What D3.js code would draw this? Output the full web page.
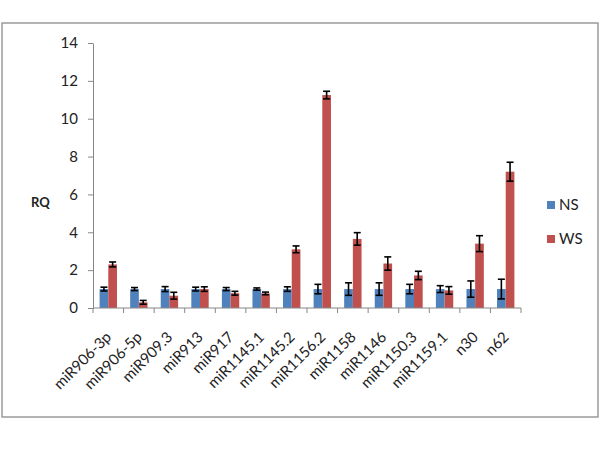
<!DOCTYPE html>
<html>
<head>
<meta charset="utf-8">
<script src="https://cdn.jsdelivr.net/npm/d3@7"></script>
<style>
  body { margin: 0; background: #fff; }
  text { font-family: Lato, "Open Sans", sans-serif; fill: #222; }
</style>
</head>
<body>
<script>
const w = 600;
const h = 450;

const categories = ["miR906-3p", "miR906-5p", "miR909.3", "miR913", "miR917", "miR1145.1",
  "miR1145.2", "miR1156.2", "miR1158", "miR1146", "miR1150.3", "miR1159.1", "n30", "n62"];
const seriesNames = ["NS", "WS"];
const nsValues = [1, 1, 1, 1, 1, 1, 1, 1, 1, 1, 1, 1, 1, 1];
const nsErrors = [0.1, 0.08, 0.13, 0.1, 0.08, 0.06, 0.12, 0.25, 0.33, 0.33, 0.25, 0.18, 0.43, 0.52];
const wsValues = [2.3, 0.3, 0.65, 1.0, 0.78, 0.77, 3.1, 11.25, 3.65, 2.35, 1.72, 0.93, 3.4, 7.2];
const wsErrors = [0.13, 0.1, 0.18, 0.12, 0.1, 0.07, 0.18, 0.2, 0.33, 0.35, 0.22, 0.2, 0.42, 0.5];
const yTicks = [0, 2, 4, 6, 8, 10, 12, 14];

const colors = { NS: "#4f81bd", WS: "#c0504d" };
const axisColor = "#868686";

const svg = d3.select("body")
  .append("svg")
  .attr("width", w)
  .attr("height", h);

// outer frame
svg.append("rect")
  .attr("x", 2)
  .attr("y", 23)
  .attr("width", 596)
  .attr("height", 394)
  .attr("fill", "#fff")
  .attr("stroke", "#9a9a9a")
  .attr("stroke-width", 1.5);

const y = d3.scaleLinear().domain([0, 14]).range([308, 43]);
const x0 = d3.scaleBand().domain(categories).range([93, 521]).padding(0);
const x1 = d3.scaleBand().domain(seriesNames).range([0, x0.bandwidth()])
  .paddingInner(0).paddingOuter(0.76);

// y axis
const yAxis = svg.append("g")
  .attr("transform", "translate(93,0)")
  .call(d3.axisLeft(y).tickValues(yTicks).tickSize(5).tickSizeOuter(0).tickPadding(10));
yAxis.select(".domain").attr("stroke", axisColor);
yAxis.selectAll(".tick line").attr("stroke", axisColor);
yAxis.selectAll(".tick text")
  .attr("font-size", 15)
  .attr("font-family", "Lato, sans-serif")
  .attr("fill", "#222");

svg.append("text")
  .attr("x", 31)
  .attr("y", 207)
  .attr("font-size", 13)
  .attr("font-weight", "bold")
  .text("RQ");

// bars
const rows = categories.map((c, i) => ({
  cat: c,
  vals: [
    { key: "NS", v: nsValues[i], e: nsErrors[i] },
    { key: "WS", v: wsValues[i], e: wsErrors[i] }
  ]
}));

const groups = svg.append("g").selectAll("g")
  .data(rows)
  .enter()
  .append("g")
  .attr("transform", d => "translate(" + x0(d.cat) + ",0)");

groups.selectAll("rect")
  .data(d => d.vals)
  .enter()
  .append("rect")
  .attr("x", d => x1(d.key))
  .attr("y", d => y(d.v))
  .attr("width", x1.bandwidth())
  .attr("height", d => y(0) - y(d.v))
  .attr("fill", d => colors[d.key]);

// error bars
const err = groups.selectAll("g.err")
  .data(d => d.vals)
  .enter()
  .append("g")
  .attr("class", "err")
  .attr("stroke", "#000")
  .attr("stroke-width", 1.6);

const cx = d => x1(d.key) + x1.bandwidth() / 2;
err.append("line")
  .attr("x1", cx).attr("x2", cx)
  .attr("y1", d => y(d.v + d.e))
  .attr("y2", d => y(d.v - d.e));
err.append("line")
  .attr("x1", d => cx(d) - 3.5).attr("x2", d => cx(d) + 3.5)
  .attr("y1", d => y(d.v + d.e)).attr("y2", d => y(d.v + d.e));
err.append("line")
  .attr("x1", d => cx(d) - 3.5).attr("x2", d => cx(d) + 3.5)
  .attr("y1", d => y(d.v - d.e)).attr("y2", d => y(d.v - d.e));

// x axis
const xAxis = svg.append("g");
xAxis.append("line")
  .attr("x1", x0.range()[0]).attr("x2", x0.range()[1])
  .attr("y1", y(0)).attr("y2", y(0))
  .attr("stroke", axisColor);
xAxis.selectAll("line.tick")
  .data(categories.map(c => x0(c)).concat([x0.range()[1]]))
  .enter()
  .append("line")
  .attr("class", "tick")
  .attr("x1", d => d).attr("x2", d => d)
  .attr("y1", y(0)).attr("y2", y(0) + 5)
  .attr("stroke", axisColor);
xAxis.selectAll("text")
  .data(categories)
  .enter()
  .append("text")
  .attr("text-anchor", "end")
  .attr("font-size", 15)
  .attr("transform", d => "translate(" + (x0(d) + x0.bandwidth() / 2 + 4) + "," + (y(0) + 30) + ") rotate(-45)")
  .text(d => d);

// legend
const legend = svg.append("g").selectAll("g")
  .data(seriesNames)
  .enter()
  .append("g")
  .attr("transform", (d, i) => "translate(547," + (201 + i * 34) + ")");
legend.append("rect")
  .attr("width", 8)
  .attr("height", 8)
  .attr("fill", d => colors[d]);
legend.append("text")
  .attr("x", 12)
  .attr("y", 9)
  .attr("font-size", 15)
  .text(d => d);
</script>
</body>
</html>
